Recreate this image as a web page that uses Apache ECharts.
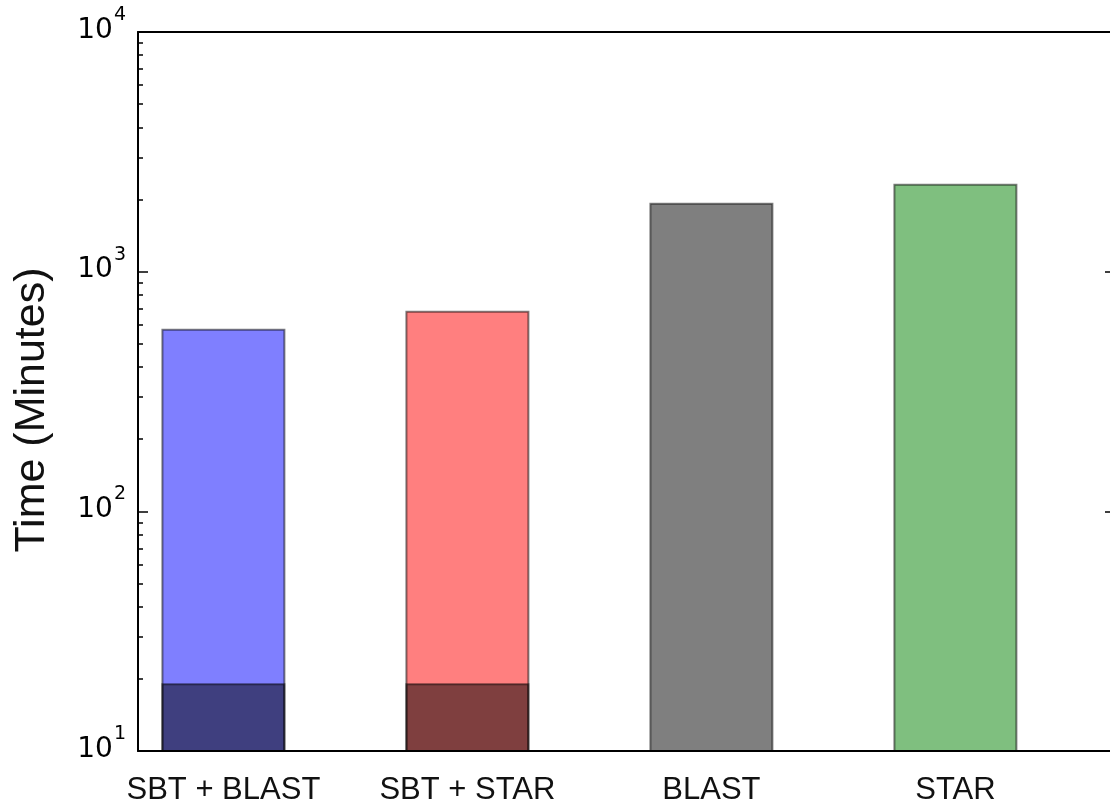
<!DOCTYPE html>
<html>
<head>
<meta charset="utf-8">
<title>Time (Minutes)</title>
<script src="https://cdn.jsdelivr.net/npm/echarts@6/dist/echarts.min.js"></script>
<style>
  html, body { margin: 0; padding: 0; background: #fff; }
  #chart { width: 1110px; height: 805px; }
</style>
</head>
<body>
<div id="chart"></div>
<script>
// Pipelines compared, total run time (minutes) and SBT query share
const categories = ['SBT + BLAST', 'SBT + STAR', 'BLAST', 'STAR'];
const totalMinutes = [573, 681, 1920, 2304];
const sbtMinutes = [19, 19, null, null];
const barColors = ['rgba(0,0,255,0.5)', 'rgba(255,0,0,0.5)', 'rgba(0,0,0,0.5)', 'rgba(0,128,0,0.5)'];

// Log-axis tick values
const majorTicks = [10, 100, 1000, 10000];
const minorTicks = [];
[10, 100, 1000].forEach(function (d) {
  for (let k = 2; k <= 9; k++) minorTicks.push(k * d);
});

const BAR_WIDTH = 0.5;   // in x units
const BASE = 10;         // bottom of the log axis

function barItem(colorFn) {
  return function (params, api) {
    const x = api.value(0);
    const v = api.value(1);
    const pTop = api.coord([x, v]);
    const pBot = api.coord([x + BAR_WIDTH, BASE]);
    return {
      type: 'rect',
      shape: { x: pTop[0], y: pTop[1], width: pBot[0] - pTop[0], height: pBot[1] - pTop[1] },
      style: { fill: colorFn(params.dataIndex), stroke: 'rgba(0,0,0,0.5)', lineWidth: 2 }
    };
  };
}

const totalData = totalMinutes.map(function (v, i) { return [i, v]; });
const sbtData = [];
sbtMinutes.forEach(function (v, i) { if (v != null) sbtData.push([i, v]); });

function supLabel(v) {
  const e = Math.round(Math.log10(v));
  return '{b|10}{s|' + e + '}';
}

const yRich = {
  b: { fontFamily: 'DejaVu Sans', fontSize: 28, lineHeight: 28, color: '#000', verticalAlign: 'bottom' },
  s: { fontFamily: 'DejaVu Sans', fontSize: 19, lineHeight: 19, color: '#000', verticalAlign: 'bottom', padding: [0, 0, 20, 1] }
};

function logAxis(position, ticks, len, labels, line) {
  return {
    type: 'log', logBase: 10, min: 10, max: 10000, position: position,
    z: 10,
    axisLine: { show: line, onZero: false, lineStyle: { color: '#000', width: 2 } },
    axisTick: { show: true, inside: true, length: len, customValues: ticks, lineStyle: { color: '#000', width: 1.5 } },
    minorTick: { show: false },
    splitLine: { show: false },
    axisLabel: labels ? {
      show: true, margin: 12, customValues: ticks, formatter: supLabel, rich: yRich,
      padding: [0, 0, 3, 0]
    } : { show: false }
  };
}

const chart = echarts.init(document.getElementById('chart'), null, { renderer: 'canvas' });
chart.setOption({
  animation: false,
  backgroundColor: '#fff',
  grid: { left: 138, top: 32, width: 976, bottom: 54, containLabel: false, outerBoundsMode: 'none' },
  xAxis: [
    {
      type: 'value', min: -0.1, max: 3.9, position: 'bottom', z: 10,
      axisLine: { show: true, onZero: false, lineStyle: { color: '#000', width: 2 } },
      axisTick: { show: false },
      splitLine: { show: false },
      axisLabel: {
        show: true, margin: 24,
        customValues: categories.map(function (c, i) { return i + BAR_WIDTH / 2; }),
        formatter: function (v) { return categories[Math.round(v - BAR_WIDTH / 2)]; },
        fontFamily: 'Liberation Sans', fontSize: 31, color: '#111'
      }
    },
    {
      type: 'value', min: -0.1, max: 3.9, position: 'top', z: 10,
      axisLine: { show: true, onZero: false, lineStyle: { color: '#000', width: 2 } },
      axisTick: { show: false }, axisLabel: { show: false }, splitLine: { show: false }
    }
  ],
  yAxis: [
    logAxis('left', majorTicks, 10, true, true),
    logAxis('left', minorTicks, 5, false, false),
    logAxis('right', majorTicks, 9, false, true)
  ],
  graphic: [{
    type: 'text',
    x: 32, y: 410,
    rotation: Math.PI / 2,
    style: {
      text: 'Time (Minutes)',
      fontFamily: 'Liberation Sans', fontSize: 43, fill: '#111',
      align: 'center', verticalAlign: 'middle'
    }
  }],
  series: [
    {
      type: 'custom', name: 'Total', xAxisIndex: 0, yAxisIndex: 0, clip: true,
      renderItem: barItem(function (i) { return barColors[i]; }),
      encode: { x: 0, y: 1 },
      data: totalData
    },
    {
      type: 'custom', name: 'SBT', xAxisIndex: 0, yAxisIndex: 0, clip: true,
      renderItem: barItem(function () { return 'rgba(0,0,0,0.5)'; }),
      encode: { x: 0, y: 1 },
      data: sbtData
    }
  ]
});
</script>
</body>
</html>
